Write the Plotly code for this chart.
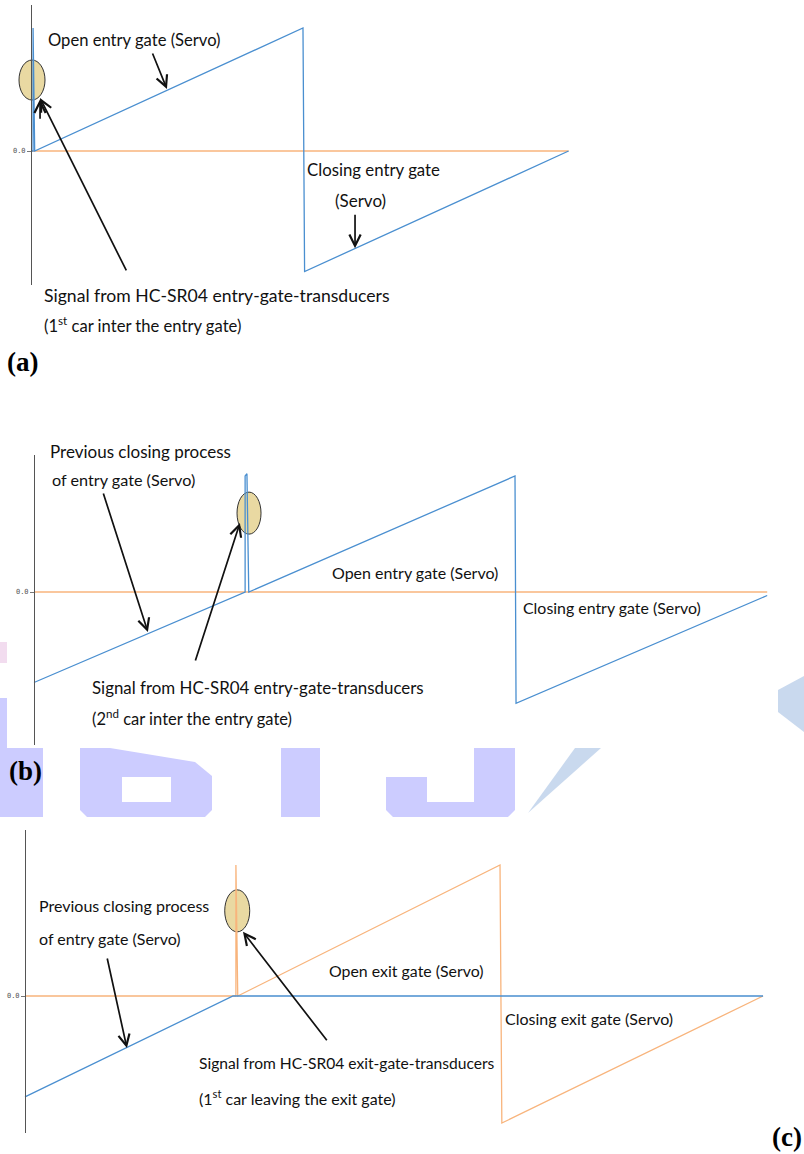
import plotly.graph_objects as go

W, H = 804, 1154

# (a) entry gate servo, 1st car arrives
A_T_EXIT = [0.0, 2.0]
A_EXIT = [0.0, 0.0]
A_T_ENTRY = [0.0, 0.004, 0.004, 0.010, 1.010, 1.016, 2.0]
A_ENTRY = [0.0, 0.0, 1.0, 0.0, 1.0, -0.98, 0.0]

# (b) entry gate servo, 2nd car arrives
B_T_EXIT = [0.0, 2.82]
B_EXIT = [0.0, 0.0]
B_T_ENTRY = [0.0, 0.812, 0.812, 0.819, 0.826, 1.85, 1.854, 2.82]
B_ENTRY = [-0.78, 0.0, 1.0, 1.02, 0.0, 1.0, -0.96, -0.03]

# (c) exit gate servo, 1st car leaves
C_T_ENTRY = [0.0, 0.794, 2.817]
C_ENTRY = [-0.77, 0.0, 0.0]
C_T_EXIT = [0.0, 0.805, 0.805, 0.812, 1.813, 1.82, 2.817]
C_EXIT = [0.0, 0.0, 1.0, 0.0, 1.0, -0.97, 0.0]

BLUE = "#4a8fd0"
ORANGE = "#f8b47c"
TXT = "Lato, Roboto, sans-serif"
SERIF = "Liberation Serif, Times New Roman, serif"


def px(x):
    return x / W


def py(y):
    return 1 - y / H


# pixel geometry of each panel: x origin (axis), px per unit, zero line, px per unit, y span
panels = [
    dict(ox=32, axis=31, sx=268.3, oy=151, sy=123, yd=(5, 285)),
    dict(ox=34, axis=34, sx=260, oy=592, sy=116, yd=(455, 745)),
    dict(ox=25, axis=25, sx=262, oy=996, sy=131, yd=(830, 1133)),
]

fig = go.Figure()

layout = {}
for i, p in enumerate(panels, start=1):
    xa = "xaxis" if i == 1 else f"xaxis{i}"
    ya = "yaxis" if i == 1 else f"yaxis{i}"
    layout[xa] = dict(
        domain=[0, 1],
        range=[(0 - p["ox"]) / p["sx"], (W - p["ox"]) / p["sx"]],
        visible=False, anchor=f"y{i}" if i > 1 else "y",
    )
    layout[ya] = dict(
        domain=[py(p["yd"][1]), py(p["yd"][0])],
        range=[(p["oy"] - p["yd"][1]) / p["sy"], (p["oy"] - p["yd"][0]) / p["sy"]],
        anchor="free", position=px(p["axis"]),
        showline=True, linecolor="#555", linewidth=1,
        showgrid=False, zeroline=False,
        tickvals=[0], ticktext=["0.0"], ticks="outside", ticklen=4,
        tickcolor="#777", tickfont=dict(family="DejaVu Sans Mono", size=7, color="#555"),
    )

series = [
    ("x", "y", A_T_EXIT, A_EXIT, ORANGE), ("x", "y", A_T_ENTRY, A_ENTRY, BLUE),
    ("x2", "y2", B_T_EXIT, B_EXIT, ORANGE), ("x2", "y2", B_T_ENTRY, B_ENTRY, BLUE),
    ("x3", "y3", C_T_EXIT, C_EXIT, ORANGE), ("x3", "y3", C_T_ENTRY, C_ENTRY, BLUE),
]
for xr, yr, t, v, c in series:
    fig.add_trace(go.Scatter(x=t, y=v, xaxis=xr, yaxis=yr, mode="lines",
                             line=dict(color=c, width=1.3), hoverinfo="skip"))

shapes = []

# watermark fragments showing around panel (b)
WM = "#ccccff"


def poly(pts, color):
    d = "M" + " L".join(f"{px(x):.5f},{py(y):.5f}" for x, y in pts) + " Z"
    return dict(type="path", path=d, xref="paper", yref="paper", fillcolor=color,
                line=dict(width=0), layer="below")


shapes += [
    poly([(0, 642), (7, 642), (7, 663), (0, 663)], "#f2dcef"),
    poly([(0, 698), (7, 698), (7, 748), (0, 748)], WM),
    poly([(0, 748), (43, 748), (43, 817), (0, 817)], WM),
    poly([(80, 748), (110, 748), (195, 762), (212, 776), (212, 810), (205, 817),
          (87, 817), (80, 810)], WM),
    poly([(122, 777), (171, 777), (171, 802), (122, 802)], "#ffffff"),
    poly([(281, 748), (320, 748), (320, 817), (281, 817)], WM),
    poly([(386, 777), (427, 777), (427, 802), (474, 802), (474, 748), (515, 748),
          (515, 810), (508, 817), (393, 817), (386, 810)], WM),
    poly([(575, 748), (601, 748), (528, 813)], "#c9d9ee"),
    poly([(778, 690), (804, 676), (804, 732), (778, 712)], "#c9d9ee"),
]

# yellow marker circles over the transducer spikes
circles = [("x", "y", 0.0, 0.577, 13, 20), ("x2", "y2", 0.827, 0.68, 12, 21),
           ("x3", "y3", 0.81, 0.65, 12.5, 21)]
for xr, yr, cx, cy, rx, ry in circles:
    shapes.append(dict(type="circle", xref=xr, yref=yr, xsizemode="pixel", ysizemode="pixel",
                       xanchor=cx, yanchor=cy, x0=-rx, x1=rx, y0=-ry, y1=ry,
                       fillcolor="#e9d9a2", line=dict(color="#333", width=1), layer="below"))

ann = []


def arrow(xr, yr, x, y, ax, ay):
    ann.append(dict(x=x, y=y, xref=xr, yref=yr, ax=ax, ay=ay, axref="pixel", ayref="pixel",
                    text="", showarrow=True, arrowhead=5, arrowsize=1.3, arrowwidth=1.7,
                    arrowcolor="#111", standoff=0))


def label(left, cy, text, size):
    ann.append(dict(x=px(left), y=py(cy), xref="paper", yref="paper", xanchor="left",
                    yanchor="middle", text=text, showarrow=False,
                    font=dict(family=TXT, size=size, color="#111")))


# (a)
arrow("x", "y", 0.503, 0.504, -15, -37)
arrow("x", "y", 0.030, 0.431, 87, 174)
arrow("x", "y", 0.030, 0.42, 0, 21)
arrow("x", "y", 1.204, -0.79, 0, -35)
label(46, 40, "Open entry gate (Servo)", 16.6)
label(305, 170, "Closing entry gate", 16.8)
label(333, 201, "(Servo)", 17)
label(42, 295, "Signal from HC-SR04 entry-gate-transducers", 17.6)
label(42, 325, "(1<sup>st</sup> car inter the entry gate)", 16.6)

# (b)
arrow("x2", "y2", 0.438, -0.345, -45, -140)
arrow("x2", "y2", 0.792, 0.595, -45, 139)
label(48, 451, "Previous closing process", 17)
label(50, 479, "of entry gate (Servo)", 16.2)
label(330, 572, "Open entry gate (Servo)", 16)
label(521, 607, "Closing entry gate (Servo)", 15.9)
label(90, 687, "Signal from HC-SR04 entry-gate-transducers", 16.9)
label(90, 718, "(2<sup>nd</sup> car inter the entry gate)", 16.5)

# (c)
arrow("x3", "y3", 0.389, -0.397, -20, -91)
arrow("x3", "y3", 0.832, 0.49, 85, 110)
label(37, 905, "Previous closing process", 16)
label(37, 938, "of entry gate (Servo)", 16)
label(327, 970, "Open exit gate (Servo)", 15.9)
label(503, 1018, "Closing exit gate (Servo)", 16)
label(197, 1063, "Signal from HC-SR04 exit-gate-transducers", 15.6)
label(197, 1097, "(1<sup>st</sup> car leaving the exit gate)", 16)

# panel letters
for left, cy, t, anchor in [(5, 362, "(a)", "left"), (7, 771, "(b)", "left"),
                            (804, 1137, "(c)", "right")]:
    ann.append(dict(x=px(left), y=py(cy), xref="paper", yref="paper", xanchor=anchor,
                    yanchor="middle", text=f"<b>{t}</b>", showarrow=False,
                    font=dict(family=SERIF, size=27, color="#000")))

fig.update_layout(
    width=W, height=H, margin=dict(l=0, r=0, t=0, b=0),
    paper_bgcolor="white", plot_bgcolor="rgba(0,0,0,0)",
    showlegend=False, shapes=shapes, annotations=ann, **layout,
)

fig.write_html("out.html", config={"displayModeBar": False},
               post_script="document.body.style.margin='0';")
